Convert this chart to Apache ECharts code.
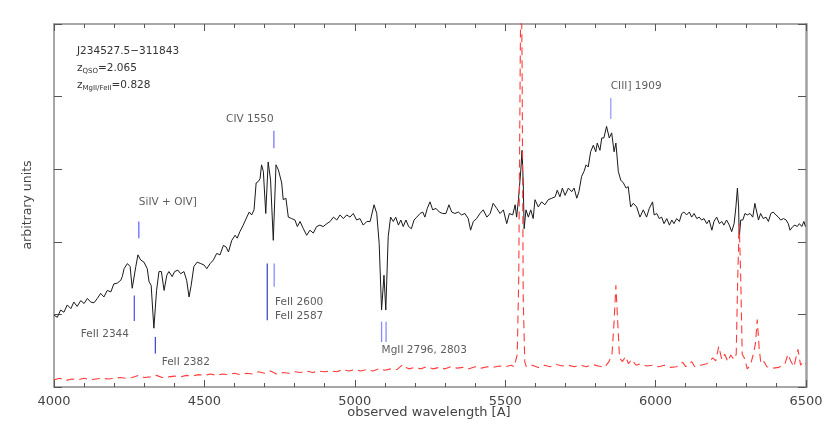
<!DOCTYPE html>
<html>
<head>
<meta charset="utf-8">
<script src="https://cdn.jsdelivr.net/npm/echarts@6/dist/echarts.min.js"></script>
<style>
html,body{margin:0;padding:0;background:#fff;}
#chart{width:830px;height:436px;}
</style>
</head>
<body>
<div id="chart"></div>
<script>
// ---------------- DATA ----------------
const fluxWavelength = [4000,4011,4022,4033,4044,4056,4066,4077,4089,4100,4111,4122,4133,4144,4155,4166,4177,4189,4199,4210,4222,4227,4233,4244,4253,4260,4272,4279,4288,4299,4310,4316,4323,4332,4341,4349,4357,4366,4375,4382,4393,4401,4412,4421,4432,4441,4449,4456,4465,4476,4488,4499,4508,4519,4530,4541,4552,4563,4572,4580,4591,4602,4609,4618,4629,4641,4649,4657,4665,4672,4679,4685,4690,4696,4704,4712,4720,4729,4738,4746,4757,4762,4771,4779,4790,4801,4809,4818,4829,4840,4851,4862,4873,4884,4895,4907,4918,4929,4940,4951,4962,4973,4984,4995,5006,5017,5028,5040,5051,5064,5073,5081,5089,5097,5103,5111,5119,5128,5136,5145,5153,5161,5170,5179,5188,5197,5206,5217,5226,5233,5241,5250,5259,5270,5281,5292,5303,5313,5322,5333,5344,5355,5366,5377,5385,5394,5405,5416,5427,5439,5450,5460,5472,5483,5494,5505,5514,5525,5533,5538,5544,5552,5556,5560,5563,5569,5577,5585,5593,5599,5610,5621,5632,5643,5655,5666,5673,5682,5690,5699,5710,5721,5729,5738,5745,5754,5762,5769,5776,5784,5793,5801,5806,5815,5821,5828,5837,5846,5854,5862,5868,5876,5884,5893,5902,5909,5917,5926,5937,5948,5959,5970,5979,5990,5995,6004,6012,6020,6028,6037,6046,6054,6061,6070,6079,6087,6094,6103,6112,6120,6128,6137,6145,6153,6161,6170,6178,6187,6194,6203,6212,6220,6227,6236,6245,6253,6261,6267,6272,6276,6278,6283,6290,6297,6305,6314,6323,6330,6336,6342,6349,6358,6367,6375,6383,6391,6400,6408,6416,6425,6434,6441,6447,6456,6463,6471,6478,6486,6493,6498];
const fluxValue = [0.99,0.96,1.06,1.03,1.13,1.08,1.17,1.11,1.19,1.15,1.22,1.17,1.16,1.22,1.29,1.24,1.33,1.31,1.42,1.43,1.47,1.52,1.63,1.70,1.66,1.36,1.66,1.82,1.75,1.72,1.63,1.45,1.40,0.81,1.33,1.59,1.59,1.33,1.54,1.59,1.52,1.59,1.61,1.56,1.59,1.47,1.24,1.40,1.66,1.72,1.70,1.68,1.63,1.70,1.75,1.84,1.82,1.95,1.93,1.86,2.02,2.09,2.05,2.14,2.23,2.34,2.41,2.37,2.44,2.81,2.83,2.87,3.06,2.97,2.39,3.10,2.85,2.02,3.06,2.99,2.81,2.58,2.60,2.34,2.32,2.30,2.21,2.28,2.18,2.09,2.16,2.12,2.21,2.23,2.21,2.25,2.28,2.34,2.30,2.37,2.32,2.37,2.34,2.39,2.30,2.32,2.23,2.28,2.28,2.51,2.39,1.98,1.06,1.54,1.06,2.07,2.34,2.28,2.34,2.23,2.30,2.21,2.30,2.21,2.18,2.30,2.34,2.39,2.41,2.34,2.46,2.55,2.44,2.46,2.41,2.39,2.39,2.51,2.41,2.39,2.41,2.37,2.39,2.32,2.16,2.28,2.32,2.39,2.44,2.34,2.39,2.53,2.46,2.39,2.44,2.25,2.39,2.37,2.51,2.34,2.58,2.99,3.26,2.81,2.18,2.44,2.34,2.44,2.32,2.58,2.48,2.55,2.51,2.58,2.60,2.62,2.71,2.62,2.74,2.64,2.74,2.69,2.74,2.60,2.69,2.90,2.97,3.06,3.03,3.24,3.33,3.24,3.36,3.26,3.43,3.43,3.59,3.43,3.50,3.24,3.36,2.97,2.85,2.81,2.74,2.76,2.48,2.53,2.48,2.34,2.44,2.34,2.46,2.55,2.37,2.39,2.32,2.34,2.25,2.32,2.23,2.30,2.25,2.32,2.28,2.39,2.41,2.37,2.41,2.34,2.39,2.32,2.34,2.30,2.32,2.25,2.30,2.16,2.28,2.34,2.25,2.28,2.23,2.30,2.23,2.14,2.25,2.48,2.74,2.48,2.05,2.30,2.30,2.39,2.37,2.39,2.34,2.53,2.53,2.30,2.39,2.32,2.34,2.28,2.39,2.41,2.37,2.34,2.30,2.32,2.30,2.25,2.16,2.21,2.23,2.21,2.25,2.21,2.28,2.21];

const noiseWavelength = [4000,4020,4040,4060,4080,4100,4120,4140,4160,4180,4200,4220,4240,4260,4280,4300,4320,4340,4360,4380,4400,4420,4440,4460,4480,4500,4520,4540,4560,4580,4600,4620,4640,4660,4680,4700,4720,4740,4760,4780,4800,4820,4840,4860,4880,4900,4920,4940,4960,4980,5000,5020,5040,5060,5080,5100,5120,5140,5160,5170,5180,5200,5220,5240,5260,5280,5300,5320,5340,5360,5380,5400,5420,5440,5460,5480,5500,5520,5530,5540,5545,5550,5553,5556,5560,5565,5570,5590,5610,5630,5650,5670,5690,5710,5730,5750,5770,5790,5810,5830,5845,5855,5862,5868,5874,5880,5890,5900,5910,5920,5935,5950,5970,5990,6010,6030,6050,6070,6090,6100,6120,6130,6150,6170,6190,6200,6210,6220,6230,6240,6250,6260,6268,6273,6278,6283,6288,6295,6305,6315,6325,6332,6338,6344,6350,6360,6370,6390,6410,6430,6440,6450,6460,6473,6482,6490,6500];
const noiseValue = [0.10,0.12,0.09,0.11,0.10,0.12,0.10,0.11,0.12,0.11,0.12,0.13,0.12,0.13,0.16,0.13,0.14,0.16,0.13,0.14,0.15,0.14,0.16,0.15,0.17,0.16,0.18,0.16,0.18,0.17,0.19,0.17,0.19,0.18,0.21,0.19,0.22,0.18,0.20,0.19,0.21,0.20,0.22,0.20,0.22,0.21,0.22,0.21,0.24,0.22,0.24,0.22,0.24,0.22,0.25,0.23,0.25,0.24,0.31,0.27,0.25,0.27,0.25,0.28,0.25,0.27,0.25,0.28,0.26,0.27,0.25,0.28,0.26,0.28,0.27,0.29,0.28,0.30,0.28,0.45,1.5,4.5,6.0,4.5,1.2,0.35,0.28,0.30,0.27,0.30,0.28,0.31,0.29,0.30,0.28,0.30,0.28,0.31,0.29,0.27,0.35,0.45,0.9,1.40,0.9,0.40,0.35,0.42,0.32,0.38,0.30,0.32,0.29,0.30,0.28,0.30,0.27,0.28,0.34,0.28,0.35,0.28,0.30,0.32,0.40,0.36,0.56,0.38,0.45,0.35,0.44,0.38,0.45,1.5,2.25,1.5,0.45,0.40,0.25,0.30,0.45,0.60,0.93,0.55,0.32,0.35,0.28,0.26,0.27,0.32,0.45,0.35,0.28,0.52,0.30,0.35,0.32];

// line identification markers: wavelength, lower and upper flux
const markerWavelength = [4282,4267,4337,4709,4732,4731,5089,5104,5851];
const markerLow  = [2.05,0.91,0.46,0.92,1.38,3.29,0.62,0.62,3.69];
const markerHigh = [2.28,1.26,0.69,1.70,1.70,3.53,0.90,0.90,3.98];

// line identification labels
const labelText = ['SiIV + OIV]','FeII 2344','FeII 2382','FeII 2600','FeII 2587','CIV 1550','MgII 2796, 2803','CIII] 1909'];
const labelWavelength = [4282,4089,4358,4735,4735,4572,5089,5851];
const labelFlux = [2.54,0.73,0.34,1.17,0.97,3.69,0.51,4.14];

const objectName = 'J234527.5\u2212311843';
const zQSO = '2.065';
const zAbs = '0.828';

const xTicks = [4000,4500,5000,5500,6000,6500];

// ---------------- STYLE ----------------
const markerColors = ['#6b6bff','#5a5af0','#4a4ad8','#4848d8','#8c8cff','#7777ff','#8a8aff','#8a8aff','#9c9cff'];
const FONT = 'DejaVu Sans';

const chart = echarts.init(document.getElementById('chart'));

const zip = (a,b) => a.map((v,i)=>[v,b[i]]);

const axisLineStyle = {color:'#8a8a8a', width:1.5};
const tickStyle = {color:'#555', width:1};

const option = {
  animation: false,
  backgroundColor: '#fff',
  grid: {left:54, right:24, top:24, bottom:49, containLabel:false},
  xAxis: [
    {
      type:'value', min:4000, max:6500, interval:500, position:'bottom',
      axisLine:{show:true, onZero:false, lineStyle:axisLineStyle},
      axisTick:{show:true, inside:true, length:7, lineStyle:tickStyle},
      minorTick:{show:true, splitNumber:5, length:4, lineStyle:tickStyle},
      splitLine:{show:false},
      axisLabel:{show:true, margin:8, fontFamily:FONT, fontSize:13, color:'#444',
        formatter: v => xTicks.includes(v) ? String(v) : ''}
    },
    {
      type:'value', min:4000, max:6500, interval:500, position:'top',
      axisLine:{show:true, onZero:false, lineStyle:axisLineStyle},
      axisTick:{show:true, inside:true, length:7, lineStyle:tickStyle},
      minorTick:{show:true, splitNumber:5, length:4, lineStyle:tickStyle},
      splitLine:{show:false},
      axisLabel:{show:false}
    }
  ],
  yAxis: [
    {
      type:'value', min:0, max:5, interval:1, position:'left',
      axisLine:{show:true, onZero:false, lineStyle:axisLineStyle},
      axisTick:{show:true, inside:true, length:8, lineStyle:tickStyle},
      splitLine:{show:false},
      axisLabel:{show:false}
    },
    {
      type:'value', min:0, max:5, interval:1, position:'right',
      axisLine:{show:true, onZero:false, lineStyle:{color:'#a0a0a0', width:2.5}},
      axisTick:{show:true, inside:true, length:8, lineStyle:tickStyle},
      splitLine:{show:false},
      axisLabel:{show:false}
    }
  ],
  series: [
    {
      type:'line', data: zip(fluxWavelength, fluxValue), showSymbol:false, symbol:'none',
      lineStyle:{color:'#1a1a1a', width:1}, z:3
    },
    {
      type:'line', data: zip(noiseWavelength, noiseValue), showSymbol:false, symbol:'none',
      lineStyle:{color:'#ff3b3b', width:1.1, type:[8,5]}, z:4, clip:true
    },
    {
      type:'custom',
      data: markerWavelength.map((w,i)=>[w, markerLow[i], markerHigh[i], i]),
      renderItem: function(params, api){
        const p0 = api.coord([api.value(0), api.value(1)]);
        const p1 = api.coord([api.value(0), api.value(2)]);
        return {type:'line', shape:{x1:p0[0], y1:p0[1], x2:p1[0], y2:p1[1]},
          style:{stroke: markerColors[api.value(3)], lineWidth:1.3}};
      },
      z:5
    },
    {
      type:'scatter', symbolSize:0,
      data: labelWavelength.map((w,i)=>({value:[w, labelFlux[i]], name:labelText[i]})),
      label:{show:true, position:[0,0], align:'left', verticalAlign:'middle',
        formatter: p => p.name, fontFamily:FONT, fontSize:10.5, color:'#333'},
      z:6, silent:true
    }
  ],
  graphic: [
    {type:'text', left:77, top:46, style:{text:objectName, font:'10.5px "DejaVu Sans"', fill:'#333'}},
    {type:'text', left:77, top:63, style:{
      text:'z{s|QSO}=' + zQSO,
      font:'10.5px "DejaVu Sans"', fill:'#333',
      rich:{s:{fontSize:7, fontFamily:FONT, fill:'#333', padding:[6,0,0,0]}}
    }},
    {type:'text', left:77, top:80, style:{
      text:'z{s|MgII/FeII}=' + zAbs,
      font:'10.5px "DejaVu Sans"', fill:'#333',
      rich:{s:{fontSize:7, fontFamily:FONT, fill:'#333', padding:[6,0,0,0]}}
    }},
    {type:'text', x:429, y:413, style:{text:'observed wavelength [A]', font:'13px "DejaVu Sans"', fill:'#444', textAlign:'center', textVerticalAlign:'middle'}},
    {type:'text', x:28, y:205, rotation:Math.PI/2, style:{text:'arbitrary units', font:'12.5px "DejaVu Sans"', fill:'#444', textAlign:'center', textVerticalAlign:'middle'}}
  ]
};

chart.setOption(option);
</script>
</body>
</html>
